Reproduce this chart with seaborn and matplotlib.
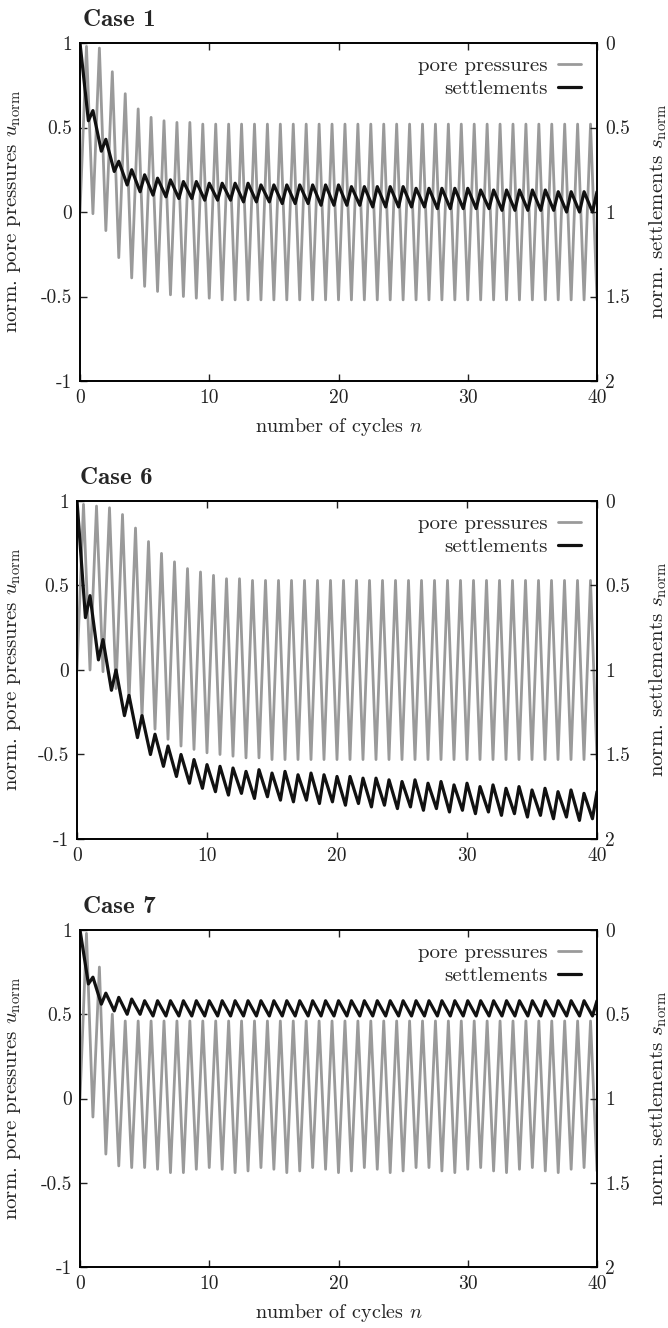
import numpy as np
import pandas as pd
import matplotlib.pyplot as plt
import seaborn as sns

# 读图得到的数据：每个循环的峰/谷值
n_cycles = 40
titles = ['Case 1', 'Case 6', 'Case 7']
start_u = 0.0   # pore pressure at n = 0
start_s = 0.0   # settlement at n = 0

# pore pressure maxima (n = k + 0.5) and minima (n = k + 1)
pore_peaks_1 = [0.98, 0.97, 0.83, 0.70, 0.61, 0.56, 0.54, 0.53, 0.53, 0.52,
                0.52, 0.52, 0.52, 0.52, 0.52, 0.52, 0.52, 0.52, 0.52, 0.52,
                0.52, 0.52, 0.52, 0.52, 0.52, 0.52, 0.52, 0.52, 0.52, 0.52,
                0.52, 0.52, 0.52, 0.52, 0.52, 0.52, 0.52, 0.52, 0.52, 0.52]
pore_troughs_1 = [-0.01, -0.11, -0.27, -0.39, -0.44, -0.47, -0.49, -0.50, -0.51, -0.51,
                  -0.52, -0.52, -0.52, -0.52, -0.52, -0.52, -0.52, -0.52, -0.52, -0.52,
                  -0.52, -0.52, -0.52, -0.52, -0.52, -0.52, -0.52, -0.52, -0.52, -0.52,
                  -0.52, -0.52, -0.52, -0.52, -0.52, -0.52, -0.52, -0.52, -0.52, -0.52]
pore_peaks_6 = [0.98, 0.97, 0.96, 0.92, 0.84, 0.76, 0.69, 0.64, 0.60, 0.58,
                0.56, 0.54, 0.54, 0.53, 0.53, 0.53, 0.53, 0.53, 0.53, 0.53,
                0.53, 0.53, 0.53, 0.53, 0.53, 0.53, 0.53, 0.53, 0.53, 0.53,
                0.53, 0.53, 0.53, 0.53, 0.53, 0.53, 0.53, 0.53, 0.53, 0.53]
pore_troughs_6 = [0.00, -0.01, -0.11, -0.19, -0.28, -0.35, -0.41, -0.45, -0.47, -0.49,
                  -0.50, -0.51, -0.52, -0.52, -0.53, -0.53, -0.53, -0.53, -0.53, -0.53,
                  -0.53, -0.53, -0.53, -0.53, -0.53, -0.53, -0.53, -0.53, -0.53, -0.53,
                  -0.53, -0.53, -0.53, -0.53, -0.53, -0.53, -0.53, -0.53, -0.53, -0.53]
pore_peaks_7 = [0.98, 0.78, 0.50, 0.46, 0.46, 0.46, 0.46, 0.46, 0.46, 0.46,
                0.46, 0.46, 0.46, 0.46, 0.46, 0.46, 0.46, 0.46, 0.46, 0.46,
                0.46, 0.46, 0.46, 0.46, 0.46, 0.46, 0.46, 0.46, 0.46, 0.46,
                0.46, 0.46, 0.46, 0.46, 0.46, 0.46, 0.46, 0.46, 0.46, 0.46]
pore_troughs_7 = [-0.11, -0.33, -0.40, -0.41, -0.41, -0.42, -0.44, -0.44, -0.42, -0.41,
                  -0.42, -0.44, -0.43, -0.41, -0.42, -0.44, -0.43, -0.41, -0.42, -0.44,
                  -0.43, -0.41, -0.42, -0.44, -0.43, -0.41, -0.41, -0.43, -0.44, -0.42,
                  -0.41, -0.43, -0.44, -0.42, -0.41, -0.43, -0.44, -0.42, -0.41, -0.43]

# settlement maxima (n = k + 0.65) and minima (n = k + 1), right axis units
settle_peaks_1 = [0.46, 0.64, 0.76, 0.84, 0.88, 0.90, 0.91, 0.92, 0.92, 0.93,
                  0.93, 0.93, 0.94, 0.94, 0.94, 0.95, 0.95, 0.95, 0.96, 0.96,
                  0.96, 0.96, 0.97, 0.97, 0.97, 0.97, 0.97, 0.98, 0.98, 0.98,
                  0.98, 0.98, 0.99, 0.99, 0.99, 0.99, 0.99, 1.00, 1.00, 1.00]
settle_dips_1 = [0.40, 0.57, 0.70, 0.75, 0.78, 0.80, 0.81, 0.82, 0.82, 0.83,
                 0.83, 0.83, 0.83, 0.84, 0.84, 0.84, 0.84, 0.84, 0.84, 0.84,
                 0.85, 0.85, 0.85, 0.85, 0.85, 0.86, 0.86, 0.86, 0.86, 0.86,
                 0.87, 0.87, 0.87, 0.87, 0.87, 0.87, 0.88, 0.88, 0.88, 0.88]
settle_peaks_6 = [0.69, 0.94, 1.12, 1.27, 1.40, 1.50, 1.57, 1.63, 1.67, 1.70,
                  1.72, 1.74, 1.73, 1.76, 1.75, 1.77, 1.78, 1.77, 1.79, 1.78,
                  1.80, 1.79, 1.81, 1.80, 1.82, 1.81, 1.83, 1.82, 1.84, 1.83,
                  1.85, 1.84, 1.86, 1.85, 1.87, 1.86, 1.88, 1.87, 1.89, 1.88]
settle_dips_6 = [0.56, 0.82, 1.00, 1.15, 1.27, 1.38, 1.45, 1.50, 1.53, 1.56,
                 1.57, 1.58, 1.60, 1.59, 1.61, 1.60, 1.62, 1.61, 1.62, 1.63,
                 1.63, 1.64, 1.64, 1.65, 1.66, 1.65, 1.67, 1.66, 1.68, 1.67,
                 1.69, 1.68, 1.70, 1.69, 1.71, 1.70, 1.72, 1.71, 1.73, 1.72]
settle_peaks_7 = [0.32, 0.44, 0.48, 0.50, 0.50, 0.51, 0.51, 0.51, 0.51, 0.51,
                  0.51, 0.51, 0.51, 0.51, 0.51, 0.51, 0.51, 0.51, 0.51, 0.51,
                  0.51, 0.51, 0.51, 0.51, 0.51, 0.51, 0.51, 0.51, 0.51, 0.51,
                  0.51, 0.51, 0.51, 0.51, 0.51, 0.51, 0.51, 0.51, 0.51, 0.51]
settle_dips_7 = [0.28, 0.375, 0.40, 0.41, 0.42, 0.42, 0.42, 0.42, 0.42, 0.42,
                 0.42, 0.42, 0.42, 0.42, 0.42, 0.42, 0.42, 0.42, 0.42, 0.42,
                 0.42, 0.42, 0.42, 0.42, 0.42, 0.42, 0.42, 0.42, 0.42, 0.42,
                 0.42, 0.42, 0.42, 0.42, 0.42, 0.42, 0.42, 0.42, 0.42, 0.42]

pore = [(pore_peaks_1, pore_troughs_1), (pore_peaks_6, pore_troughs_6), (pore_peaks_7, pore_troughs_7)]
settle = [(settle_peaks_1, settle_dips_1), (settle_peaks_6, settle_dips_6), (settle_peaks_7, settle_dips_7)]

u_ticks = [-1, -0.5, 0, 0.5, 1]
u_labels = ['-1', '-0.5', '0', '0.5', '1']
s_ticks = [0, 0.5, 1, 1.5, 2]
s_labels = ['0', '0.5', '1', '1.5', '2']
n_ticks = [0, 10, 20, 30, 40]


def zigzag(highs, lows, offset, start):
    """把峰谷值交替排成一条曲线"""
    k = np.arange(n_cycles)
    x = np.concatenate([[0.0], np.column_stack([k + offset, k + 1.0]).ravel()])
    y = np.concatenate([[start], np.column_stack([highs, lows]).ravel()])
    return pd.DataFrame({'n': x, 'val': y})


sns.set_theme(style='ticks')
plt.rcParams['font.family'] = ['cmr10', 'DejaVu Serif']
plt.rcParams['mathtext.fontset'] = 'cm'
plt.rcParams['axes.unicode_minus'] = False
plt.rcParams['axes.edgecolor'] = 'black'
plt.rcParams['axes.linewidth'] = 1.2

fig = plt.figure(figsize=(6.68, 13.28), dpi=100)
W, H = 668, 1328
# 每个子图的像素位置 (left, top, right, bottom)
boxes = [(80, 43, 597, 381), (77, 501, 597, 839), (80, 930, 597, 1267)]
txt = '#222222'

for i, (title, box) in enumerate(zip(titles, boxes)):
    l, t, r, b = box
    ax = fig.add_axes([l / W, 1 - b / H, (r - l) / W, (b - t) / H])
    ax2 = ax.twinx()

    df_u = zigzag(pore[i][0], pore[i][1], 0.5, start_u)
    df_s = zigzag(settle[i][0], settle[i][1], 0.65, start_s)
    sns.lineplot(data=df_u, x='n', y='val', ax=ax, color='#9a9a9a', lw=2.0,
                 sort=False, estimator=None, label='pore pressures', legend=False)
    sns.lineplot(data=df_s, x='n', y='val', ax=ax2, color='#111111', lw=2.3,
                 sort=False, estimator=None, label='settlements', legend=False)

    ax.set_xlim(0, 40)
    ax.set_ylim(-1, 1)
    ax2.set_ylim(2, 0)
    ax.set_xticks(n_ticks)
    ax.set_xticklabels([str(v) for v in n_ticks])
    ax.set_yticks(u_ticks)
    ax.set_yticklabels(u_labels)
    ax2.set_yticks(s_ticks)
    ax2.set_yticklabels(s_labels)
    ax.tick_params(direction='in', top=True, right=False, length=5, width=1,
                   labelsize=14, pad=6, colors=txt)
    ax2.tick_params(direction='in', length=5, width=1, labelsize=14, pad=6, colors=txt)

    ax.set_ylabel(r'norm. pore pressures $u_{\mathrm{norm}}$', fontsize=15, color=txt)
    ax2.set_ylabel(r'norm. settlements $s_{\mathrm{norm}}$', fontsize=15, color=txt)
    ax.yaxis.set_label_coords((23 - l) / (r - l), 0.5)
    ax2.yaxis.set_label_coords((647 - l) / (r - l), 0.5)
    if i != 1:
        ax.set_xlabel(r'number of cycles $n$', fontsize=14.5, labelpad=6, color=txt)
    else:
        ax.set_xlabel('')
    ax.set_title(title, loc='left', fontfamily='cmb10', fontsize=18, pad=12, x=0.005)

    handles = ax.get_lines()[:1] + ax2.get_lines()[:1]
    ax2.legend(handles, ['pore pressures', 'settlements'], loc='upper right',
               bbox_to_anchor=(0.995, 1.0), frameon=False, markerfirst=False,
               fontsize=15, handlelength=1.1, handletextpad=0.5,
               labelspacing=0.2, borderaxespad=0.4, borderpad=0.25)

plt.savefig('out.png', dpi=100)
